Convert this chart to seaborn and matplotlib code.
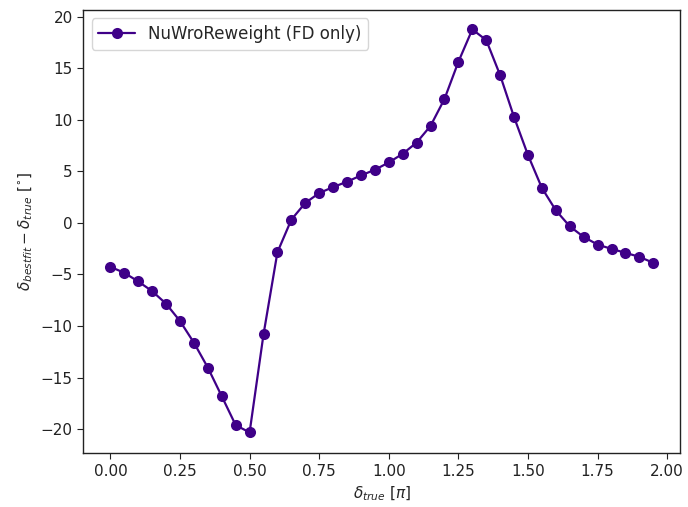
import numpy as np
import pandas as pd
import matplotlib
matplotlib.use("Agg")
import matplotlib.pyplot as plt
import seaborn as sns

# delta_CP true values (in units of pi) and the best-fit bias in degrees
delta_true = [0.00, 0.05, 0.10, 0.15, 0.20, 0.25, 0.30, 0.35, 0.40, 0.45,
              0.50, 0.55, 0.60, 0.65, 0.70, 0.75, 0.80, 0.85, 0.90, 0.95,
              1.00, 1.05, 1.10, 1.15, 1.20, 1.25, 1.30, 1.35, 1.40, 1.45,
              1.50, 1.55, 1.60, 1.65, 1.70, 1.75, 1.80, 1.85, 1.90, 1.95]
bias_deg = [-4.26, -4.84, -5.68, -6.62, -7.84, -9.52, -11.62, -14.04, -16.82, -19.62,
            -20.33, -10.81, -2.84, 0.32, 1.94, 2.90, 3.48, 4.00, 4.61, 5.16,
            5.87, 6.71, 7.80, 9.42, 12.03, 15.64, 18.78, 17.74, 14.33, 10.26,
            6.58, 3.39, 1.22, -0.33, -1.36, -2.10, -2.52, -2.90, -3.29, -3.87]
series_name = "NuWroReweight (FD only)"

df = pd.DataFrame({"delta_true": delta_true, "bias": bias_deg,
                   "sample": series_name})

sns.set_style("ticks")
plt.rcParams["font.family"] = ["DejaVu Sans"]
plt.rcParams["font.size"] = 11
plt.rcParams["mathtext.fontset"] = "dejavusans"

fig = plt.figure(figsize=(6.88, 5.07), dpi=100)
ax = fig.add_axes([0.121, 0.106, 0.868, 0.874])

sns.lineplot(data=df, x="delta_true", y="bias", hue="sample",
             palette=["#3f0088"], marker="o", markersize=8,
             markeredgewidth=0, linewidth=1.6, ax=ax)

ax.set_xlim(-0.0975, 2.0475)
ax.set_ylim(-22.35, 20.65)
ax.set_xticks([0.00, 0.25, 0.50, 0.75, 1.00, 1.25, 1.50, 1.75, 2.00])
ax.set_xticklabels(["0.00", "0.25", "0.50", "0.75", "1.00", "1.25", "1.50", "1.75", "2.00"])
ax.set_yticks([-20, -15, -10, -5, 0, 5, 10, 15, 20])
ax.tick_params(labelsize=11, length=4, width=0.8, colors="#222222", labelcolor="#222222")
for s in ax.spines.values():
    s.set_linewidth(1.0)
    s.set_color("#222222")

ax.set_xlabel(r"$\delta_{true}$ [$\pi$]", fontsize=11)
ax.set_ylabel(r"$\delta_{bestfit} - \delta_{true}$ [$^{\circ}$]", fontsize=11)

leg = ax.legend(loc="upper left", fontsize=12, frameon=True, fancybox=True,
                handlelength=2.2)
leg.get_frame().set_edgecolor("#cccccc")

fig.savefig("out.png", dpi=100)
